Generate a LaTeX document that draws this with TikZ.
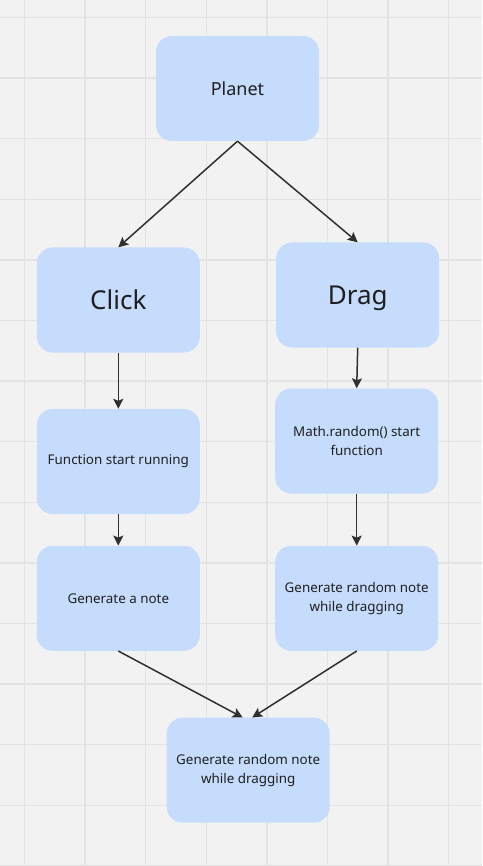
\documentclass[tikz,border=0pt]{standalone}
\usepackage{fontspec}
\setmainfont{Noto Sans}
\usepackage{tikz}
\usetikzlibrary{arrows.meta}

\definecolor{boardgray}{HTML}{F2F2F2}
\definecolor{gridgray}{HTML}{E3E3E3}
\definecolor{boxblue}{HTML}{C6DCFC}
\definecolor{inkgray}{HTML}{303030}

\tikzset{
	flowbox/.style={shape=rectangle, rounded corners=16pt, fill=boxblue, minimum width=163pt, minimum height=105pt, inner sep=0pt, align=center, text=black!88, font=\fontsize{13.4}{19}\selectfont},
	flowarrow/.style={draw=inkgray, line width=1.5pt, -{Stealth[length=10pt, width=10pt, inset=2pt]}}
}

\begin{document}
\begin{tikzpicture}[x=1pt, y=-1pt]
		% Board and grid:
		\fill[boardgray] (0, 0) rectangle (482, 866);
		\useasboundingbox (0, 0) rectangle (482, 866);
		\foreach \gx in {0,...,7}
			\draw[gridgray, line width=1.3pt] (24.5+60.6*\gx, 0) -- (24.5+60.6*\gx, 866);
		\foreach \gy in {0,...,14}
			\draw[gridgray, line width=1.3pt] (0, 17.5+60.6*\gy) -- (482, 17.5+60.6*\gy);
		% Boxes:
		\node[flowbox, font=\fontsize{18}{22}\selectfont](Planet) at (237.5, 88.5){Planet};
		\node[flowbox, font=\fontsize{26}{30}\selectfont](Click) at (118.3, 300){Click};
		\node[flowbox, font=\fontsize{26}{30}\selectfont, text depth=0pt](Drag) at (357.7, 295){Drag};
		\node[flowbox](FuncRun) at (118.3, 461.5){Function start running};
		\node[flowbox](MathRand) at (356.7, 441){Math.random() start\\function};
		\node[flowbox](GenNote) at (118.3, 598.3){Generate a note};
		\node[flowbox](GenRandR) at (356.7, 598.3){Generate random note\\while dragging};
		\node[flowbox](GenRandB) at (248.2, 770.2){Generate random note\\while dragging};
		% Arrows:
		\draw[flowarrow] (Planet.south) -- (Click.north);
		\draw[flowarrow] (Planet.south) -- (Drag.north);
		\draw[flowarrow] (Click.south) -- (FuncRun.north);
		\draw[flowarrow] (Drag.south) -- (MathRand.north);
		\draw[flowarrow] (FuncRun.south) -- (GenNote.north);
		\draw[flowarrow] (MathRand.south) -- (GenRandR.north);
		\draw[flowarrow] (GenNote.south) -- ([xshift=-5.5pt]GenRandB.north);
		\draw[flowarrow] (GenRandR.south) -- ([xshift=4pt]GenRandB.north);
	\end{tikzpicture}
\end{document}
